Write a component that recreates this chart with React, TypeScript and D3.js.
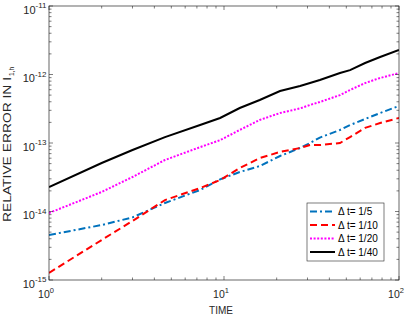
import React from 'react'
import * as d3 from 'd3'

// time points (x) shared by all curves
const times = [1, 2, 3, 4.6, 7.3, 9.5, 12.3, 16, 20.9, 27.2, 31, 35.3, 46, 52.5, 64, 78, 100]

// relative error for each time step size
const err5 = [4.54e-15, 6.35e-15, 8.2e-15, 1.33e-14, 2.06e-14, 2.95e-14, 3.77e-14, 4.6e-14, 6.46e-14, 8.45e-14, 1.0e-13, 1.2e-13, 1.55e-13, 1.83e-13, 2.24e-13, 2.74e-13, 3.47e-13]
const err10 = [1.27e-15, 3.84e-15, 7.27e-15, 1.47e-14, 2.2e-14, 2.88e-14, 4.3e-14, 6.03e-14, 7.4e-14, 8.45e-14, 9.35e-14, 9.35e-14, 1.0e-13, 1.22e-13, 1.66e-13, 1.96e-13, 2.32e-13]
const err20 = [9.5e-15, 1.93e-14, 3.19e-14, 5.65e-14, 8.7e-14, 1.1e-13, 1.55e-13, 2.17e-13, 2.74e-13, 3.2e-13, 3.59e-13, 3.97e-13, 5.0e-13, 5.94e-13, 7.5e-13, 8.9e-13, 1.05e-12]
const err40 = [2.28e-14, 5.1e-14, 7.9e-14, 1.22e-13, 1.83e-13, 2.32e-13, 3.24e-13, 4.25e-13, 5.74e-13, 6.8e-13, 7.5e-13, 8.3e-13, 1.05e-12, 1.16e-12, 1.47e-12, 1.8e-12, 2.28e-12]

const seriesLabels = ['Δ t= 1/5', 'Δ t= 1/10', 'Δ t= 1/20', 'Δ t= 1/40']
const xTickExps = [0, 1, 2]
const yTickExps = [-15, -14, -13, -12, -11]

const series = [
  { label: seriesLabels[0], values: err5, color: '#0072BD', dash: '7,3,2,3' },
  { label: seriesLabels[1], values: err10, color: '#FF0000', dash: '7,4' },
  { label: seriesLabels[2], values: err20, color: '#FF00FF', dash: '2,1.6' },
  { label: seriesLabels[3], values: err40, color: '#000000', dash: null }
]

const axisColor = '#262626'
const font = 'Liberation Sans, Arial, Helvetica, sans-serif'

export default function App() {
  const left = 49, right = 399, top = 6, bottom = 280

  const x = d3.scaleLog().domain([1, 100]).range([left, right])
  const y = d3.scaleLog().domain([1e-15, 1e-11]).range([bottom, top])

  const line = (vals: number[]) =>
    d3.line<number>()
      .x((d, i) => x(times[i]))
      .y(d => y(d))(vals) as string

  // minor ticks 2..9 of every decade
  const xMinor: number[] = []
  for (let e = 0; e < 2; e++) for (let k = 2; k <= 9; k++) xMinor.push(k * Math.pow(10, e))
  const yMinor: number[] = []
  for (let e = -15; e < -11; e++) for (let k = 2; k <= 9; k++) yMinor.push(k * Math.pow(10, e))

  const maj = 4, minr = 2.5

  const legX = 307, legY = 203, legW = 77, legH = 58

  return (
    <svg width={407} height={316} style={{ position: 'absolute', left: 0, top: 0, background: '#fff' }}
      fontFamily={font}>
      <rect x={left} y={top} width={right - left} height={bottom - top} fill="#fff" />

      <clipPath id="plot">
        <rect x={left} y={top} width={right - left} height={bottom - top} />
      </clipPath>
      <g clipPath="url(#plot)">
        {series.map(s => (
          <path key={s.label} d={line(s.values)} fill="none" stroke={s.color}
            strokeWidth={2} strokeDasharray={s.dash || undefined} />
        ))}
      </g>

      {/* ticks */}
      <g stroke={axisColor} strokeWidth={0.6}>
        {xTickExps.map(e => {
          const px = x(Math.pow(10, e))
          return <g key={'xt' + e}>
            <line x1={px} x2={px} y1={bottom} y2={bottom - maj} />
            <line x1={px} x2={px} y1={top} y2={top + maj} />
          </g>
        })}
        {xMinor.map(v => (
          <g key={'xm' + v}>
            <line x1={x(v)} x2={x(v)} y1={bottom} y2={bottom - minr} />
            <line x1={x(v)} x2={x(v)} y1={top} y2={top + minr} />
          </g>
        ))}
        {yTickExps.map(e => {
          const py = y(Math.pow(10, e))
          return <g key={'yt' + e}>
            <line x1={left} x2={left + maj} y1={py} y2={py} />
            <line x1={right} x2={right - maj} y1={py} y2={py} />
          </g>
        })}
        {yMinor.map(v => (
          <g key={'ym' + v}>
            <line x1={left} x2={left + minr} y1={y(v)} y2={y(v)} />
            <line x1={right} x2={right - minr} y1={y(v)} y2={y(v)} />
          </g>
        ))}
      </g>
      <rect x={left} y={top} width={right - left} height={bottom - top} fill="none"
        stroke={axisColor} strokeWidth={0.7} />

      {/* tick labels */}
      {xTickExps.map(e => (
        <text key={'xl' + e} x={x(Math.pow(10, e)) - 3} y={298} fontSize={10.5}
          fill={axisColor} textAnchor="middle">
          10<tspan fontSize={7.5} dy={-5}>{e}</tspan>
        </text>
      ))}
      {yTickExps.map(e => (
        <text key={'yl' + e} x={46.5} y={y(Math.pow(10, e)) + 7.5} fontSize={11}
          fill={axisColor} textAnchor="end">
          10<tspan fontSize={8} dy={-5.5}>{e}</tspan>
        </text>
      ))}

      {/* axis titles */}
      <text x={(left + right) / 2 - 3} y={314} fontSize={10} fill={axisColor} textAnchor="middle">TIME</text>
      <g transform="translate(11,222) rotate(-90)">
        <text x={0} y={0} fontSize={10.5} fill={axisColor}>
          <tspan textLength={145} lengthAdjust="spacingAndGlyphs">RELATIVE ERROR IN I</tspan>
          <tspan fontSize={6.5} dx={1} dy={3}>1,h</tspan>
        </text>
      </g>

      {/* legend */}
      <rect x={legX} y={legY} width={legW} height={legH} fill="#fff" stroke={axisColor} strokeWidth={0.6} />
      {series.map((s, i) => {
        const ly = legY + 8.5 + i * 13.5
        return <g key={'lg' + i}>
          <line x1={legX + 3} x2={legX + 28} y1={ly} y2={ly} stroke={s.color} strokeWidth={2}
            strokeDasharray={s.dash || undefined} />
          <text x={legX + 31} y={ly + 3.5} fontSize={10} fill="#000">{s.label}</text>
        </g>
      })}
    </svg>
  )
}
